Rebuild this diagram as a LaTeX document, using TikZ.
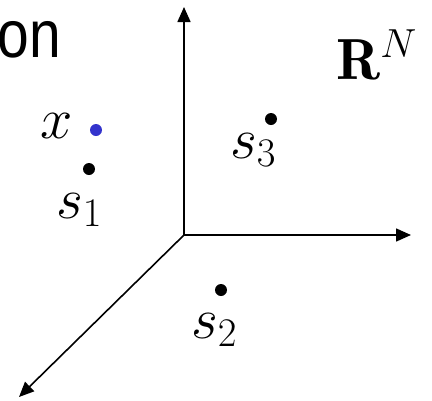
\RequirePackage{fix-cm}
\documentclass[tikz,border=0pt]{standalone}
\usepackage{fontspec}
\newfontfamily\onfont{Liberation Sans}
\usetikzlibrary{arrows.meta}
\definecolor{dotblue}{RGB}{51,51,204}
\begin{document}
\begin{tikzpicture}[x=1pt,y=-1pt,
  axis/.style={line width=1.6pt,-{Triangle[length=15pt,width=13pt]}},
  dot/.style={circle,fill=black,inner sep=0pt,minimum size=12pt},
  lbl/.style={inner sep=0pt,anchor=base west,font=\fontsize{58}{64}\selectfont}]
\useasboundingbox (0,0) rectangle (432,400);
\clip (0,0) rectangle (432,400);
\coordinate (O) at (184,235);
\coordinate (up) at (184,7);
\coordinate (right) at (411,235);
\coordinate (dl) at (19,397);
\draw[axis] (O) -- (up);
\draw[axis] (O) -- (right);
\draw[axis] (O) -- (dl);
\node[anchor=base east,inner sep=0pt,font=\onfont\fontsize{67}{70}\selectfont,xscale=0.85] (on) at (61,57) {on};
\node[dot,fill=dotblue] (xd) at (96,130) {};
\node[lbl] (xl) at (40,138) {$x$};
\node[dot] (s1d) at (89,169) {};
\node[lbl] (s1l) at (56,218) {$s_1$};
\node[dot] (s3d) at (271,119) {};
\node[lbl] (s3l) at (230,158) {$s_3$};
\node[dot] (s2d) at (221,290) {};
\node[lbl] (s2l) at (191,338) {$s_2$};
\node[lbl] (rn) at (336,79) {$\mathbf{R}^N$};
\end{tikzpicture}
\end{document}
